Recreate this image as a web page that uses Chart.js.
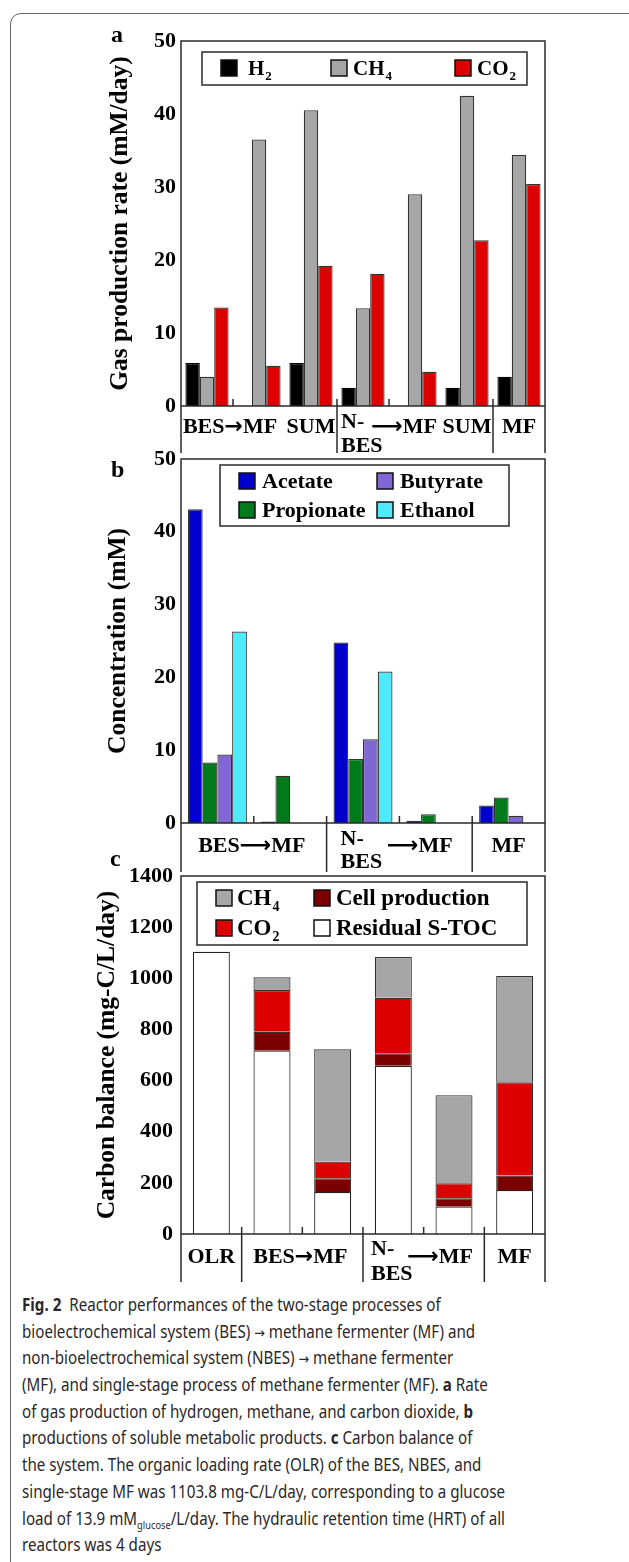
<!DOCTYPE html>
<html>
<head>
<meta charset="utf-8">
<script src="https://cdn.jsdelivr.net/npm/chart.js@4.4.1/dist/chart.umd.min.js"></script>
<style>
  html, body { margin: 0; padding: 0; background: #fff; }
  body { width: 629px; height: 1562px; position: relative; overflow: hidden; }
  #frame { position: absolute; left: 10px; top: 13px; width: 640px; height: 1600px;
           border: 1.5px solid #666; border-radius: 11px; box-sizing: border-box; }
  canvas { position: absolute; left: 0; }
  #caption { position: absolute; left: 22px; top: 1291px; font-family: 'Noto Sans', sans-serif;
             font-size: 18px; line-height: 26.7px; color: #2b2728; white-space: nowrap;
             transform-origin: 0 0; }
  #caption div { height: 26.7px; }
  #caption b { font-weight: 700; }
  #caption sub { font-size: 11px; vertical-align: -4px; line-height: 0; }
  #caption .ar { font-family: 'DejaVu Sans', sans-serif; font-size: 15px; }
</style>
</head>
<body>
<div id="frame"></div>
<canvas id="chart-a" width="629" height="460" style="top:0px"></canvas>
<canvas id="chart-b" width="629" height="450" style="top:430px"></canvas>
<canvas id="chart-c" width="629" height="440" style="top:850px"></canvas>
<div id="caption">
  <div><b>Fig. 2</b>&nbsp; Reactor performances of the two-stage processes of</div>
  <div>bioelectrochemical system (BES) <span class="ar">→</span> methane fermenter (MF) and</div>
  <div>non-bioelectrochemical system (NBES) <span class="ar">→</span> methane fermenter</div>
  <div>(MF), and single-stage process of methane fermenter (MF). <b>a</b> Rate</div>
  <div>of gas production of hydrogen, methane, and carbon dioxide, <b>b</b></div>
  <div>productions of soluble metabolic products. <b>c</b> Carbon balance of</div>
  <div>the system. The organic loading rate (OLR) of the BES, NBES, and</div>
  <div id="cap-ref">single-stage MF was 1103.8 mg-C/L/day, corresponding to a glucose</div>
  <div>load of 13.9 mM<sub>glucose</sub>/L/day. The hydraulic retention time (HRT) of all</div>
  <div>reactors was 4 days</div>
</div>
<script>
/* ── DATA ── */
// a: gas production rate (mM/day)
const catsA   = ['BES', 'MF', 'SUM', 'NBES', 'MF', 'SUM', 'MF'];
const h2Rate  = [5.9, 0, 5.9, 2.5, 0, 2.5, 4.0];
const ch4Rate = [4.0, 36.5, 40.5, 13.4, 29.0, 42.5, 34.4];
const co2Rate = [13.5, 5.5, 19.2, 18.1, 4.7, 22.7, 30.4];
const xTextA  = ['BES→MF', 'SUM', 'N-', 'BES', '⟶MF', 'SUM', 'MF'];
const yMaxA = 50, yStepA = 10;

// b: metabolite concentration (mM)
const catsB      = ['BES', 'MF', 'NBES', 'MF', 'MF'];
const acetate    = [43.1, 0.2, 24.8, 0.3, 2.4];
const propionate = [8.3, 6.5, 8.8, 1.2, 3.5];
const butyrate   = [9.4, 0, 11.5, 0, 1.0];
const ethanol    = [26.3, 0, 20.8, 0, 0];
const xTextB     = ['BES⟶MF', 'N-', 'BES', '⟶MF', 'MF'];
const yMaxB = 50, yStepB = 10;

// c: carbon balance (mg-C/L/day)
const catsC       = ['OLR', 'BES', 'MF', 'NBES', 'MF', 'MF'];
const residualToc = [1103.8, 717, 164, 658, 107, 172];
const cellProd    = [0, 74, 54, 49, 33, 57];
const co2Carbon   = [0, 163, 65, 217, 58, 364];
const ch4Carbon   = [0, 50, 439, 159, 345, 416];
const xTextC      = ['OLR', 'BES→MF', 'N-', 'BES', '⟶MF', 'MF'];
const yMaxC = 1400, yStepC = 200;

/* ── SHARED ── */
const SERIF = "'Liberation Serif', 'Times New Roman', serif";
const ARROWFONT = "'DejaVu Sans', sans-serif";
const LINE  = '#2a2a2a';
const EDGE  = '#333';

// draw "CH4" as CH + subscript 4
function drawFormula(ctx, label, x, y, size) {
  const m = label.match(/^(.*?)(\d+)$/);
  const base = m ? m[1] : label;
  ctx.font = `bold ${size}px ${SERIF}`;
  ctx.fillText(base, x, y);
  if (m) {
    const w = ctx.measureText(base).width;
    ctx.font = `bold ${Math.round(size * 0.62)}px ${SERIF}`;
    ctx.fillText(m[2], x + w + 1, y + size * 0.26);
  }
}

// category text, arrows set in a font that has a proper bold arrow
function drawLabel(ctx, text, x, y, align) {
  const parts = text.split(/([→⟶])/).filter(Boolean).map(p => ({
    p, font: /[→⟶]/.test(p) ? `bold 22px ${ARROWFONT}` : `bold 22px ${SERIF}`
  }));
  parts.forEach(s => { ctx.font = s.font; s.w = ctx.measureText(s.p).width; });
  const total = parts.reduce((t, s) => t + s.w, 0);
  let cx = align === 'center' ? x - total / 2 : x;
  ctx.textAlign = 'left';
  parts.forEach(s => { ctx.font = s.font; ctx.fillText(s.p, cx, y); cx += s.w; });
}

/* ── PANEL FRAME + CATEGORY TEXT + LEGEND ── */
const panelDeco = {
  id: 'panelDeco',
  afterDraw(chart, args, o) {
    const { ctx, chartArea: a } = chart;
    const step = (a.right - a.left) / chart.data.labels.length;
    const bx = a.bottom + o.ext;
    ctx.save();
    ctx.strokeStyle = LINE; ctx.lineWidth = 1.5;
    ctx.beginPath();
    ctx.moveTo(a.left, bx); ctx.lineTo(a.left, a.top);
    ctx.lineTo(a.right, a.top); ctx.lineTo(a.right, bx);
    ctx.moveTo(a.left, a.bottom); ctx.lineTo(a.right, a.bottom);
    o.dividers.forEach(i => { const px = a.left + step * i; ctx.moveTo(px, a.bottom - 7); ctx.lineTo(px, bx); });
    o.ticks.forEach(i => { const px = a.left + step * i; ctx.moveTo(px, a.bottom - 7); ctx.lineTo(px, a.bottom); });
    ctx.stroke();

    ctx.fillStyle = '#000';
    ctx.textBaseline = 'alphabetic';
    ctx.textAlign = 'left';
    ctx.font = `bold 24px ${SERIF}`;
    ctx.fillText(o.letter[0], o.letter[1], o.letter[2]);

    o.texts.forEach((t, k) => {
      const [pos, dx, dy, align] = o.place[k];
      drawLabel(ctx, t, a.left + step * pos + dx, a.bottom + dy, align);
    });

    // legend box
    const L = o.legend;
    ctx.textAlign = 'left';
    ctx.strokeStyle = LINE; ctx.lineWidth = 1.5;
    ctx.strokeRect(a.left + L.box[0], a.top + L.box[1], L.box[2], L.box[3]);
    L.items.forEach(([di, sx, sy, tx, ty]) => {
      const ds = chart.data.datasets[di];
      ctx.fillStyle = ds.backgroundColor;
      ctx.fillRect(a.left + sx, a.top + sy, 16, 16);
      ctx.strokeStyle = '#111'; ctx.lineWidth = 1.5;
      ctx.strokeRect(a.left + sx, a.top + sy, 16, 16);
      ctx.fillStyle = '#000';
      drawFormula(ctx, ds.label, a.left + tx, a.top + ty, L.size);
    });
    ctx.restore();
  }
};

function yAxis(max, step, titleText, titlePad, tickPad) {
  return {
    min: 0, max: max,
    ticks: { stepSize: step, padding: tickPad, color: '#000', callback: v => String(v),
             font: { family: SERIF, size: 22, weight: 'bold' } },
    grid: { display: false, drawTicks: false },
    border: { display: false },
    title: { display: true, text: titleText, color: '#000',
             padding: { top: titlePad, bottom: 0 },
             font: { family: SERIF, size: 25.5, weight: 'bold' } },
    afterFit: s => { s.width = 181; }
  };
}

function bar(label, data, color, border) {
  return { label, data, backgroundColor: color, borderColor: border || EDGE,
           borderWidth: 1.2, categoryPercentage: 1, barPercentage: 1 };
}

function baseOpts(padTop, padBottom, deco) {
  return {
    responsive: false, animation: false,
    layout: { padding: { top: padTop, bottom: padBottom, left: 0, right: 84 } },
    plugins: { legend: { display: false }, tooltip: { enabled: false }, panelDeco: deco },
  };
}

/* ── a: gas production ── */
const optsA = baseOpts(41, 54, {
  ext: 47, dividers: [3, 6], ticks: [1, 4], letter: ['a', 111, 42],
  texts: xTextA,
  place: [[1, -3, 27, 'center'], [2.5, 0, 27, 'center'], [3, 4, 22, 'left'], [3, 4, 46, 'left'],
          [4.5, -11, 27, 'center'], [5.5, 0, 27, 'center'], [6.5, 0, 27, 'center']],
  legend: { box: [21, 11, 325, 33], size: 21,
            items: [[0, 40, 19, 67, 34], [1, 150, 19, 172, 34], [2, 274, 19, 296, 34]] }
});
optsA.scales = { x: { display: false }, y: yAxis(yMaxA, yStepA, 'Gas production rate (mM/day)', 105, 5) };

new Chart(document.getElementById('chart-a'), {
  type: 'bar',
  data: { labels: catsA, datasets: [
    bar('H2', h2Rate, '#000000', '#000'),
    bar('CH4', ch4Rate, '#a6a6a6'),
    bar('CO2', co2Rate, '#dd0000'),
  ].map(d => ({ ...d, categoryPercentage: 0.83 })) },
  options: optsA,
  plugins: [panelDeco]
});

/* ── b: metabolites ── */
const optsB = baseOpts(29, 57, {
  ext: 49, dividers: [2, 4], ticks: [1, 3], letter: ['b', 111, 47],
  texts: xTextB,
  place: [[1, -2, 29, 'center'], [2, 14, 22, 'left'], [2, 14, 45, 'left'],
          [3.5, -16, 29, 'center'], [4.5, 0, 29, 'center']],
  legend: { box: [39, 6, 289, 61], size: 22,
            items: [[0, 58, 14, 81, 29], [2, 196, 14, 219, 29], [1, 58, 43, 81, 58], [3, 196, 43, 219, 58]] }
});
optsB.scales = { x: { display: false }, y: yAxis(yMaxB, yStepB, 'Concentration (mM)', 103, 5) };

new Chart(document.getElementById('chart-b'), {
  type: 'bar',
  data: { labels: catsB, datasets: [
    bar('Acetate', acetate, '#0000cc'),
    bar('Propionate', propionate, '#007a1a'),
    bar('Butyrate', butyrate, '#8166d6'),
    bar('Ethanol', ethanol, '#4ee9fa'),
  ].map(d => ({ ...d, categoryPercentage: 0.81 })) },
  options: optsB,
  plugins: [panelDeco]
});

/* ── c: carbon balance ── */
const optsC = baseOpts(26, 56, {
  ext: 48, dividers: [1, 3, 5], ticks: [2, 4], letter: ['c', 110, 16],
  texts: xTextC,
  place: [[0.5, 0, 29, 'center'], [2, -2, 29, 'center'], [3, 8, 21, 'left'], [3, 8, 46, 'left'],
          [4.5, -14, 29, 'center'], [5.5, 0, 29, 'center']],
  legend: { box: [16, 6, 330, 63], size: 23,
            items: [[3, 35, 14, 56, 29], [1, 133, 14, 155, 29], [2, 35, 44, 56, 59], [0, 133, 44, 155, 59]] }
});
optsC.scales = {
  x: { display: false, stacked: true },
  y: { ...yAxis(yMaxC, yStepC, 'Carbon balance (mg-C/L/day)', 92, 8), stacked: true }
};

new Chart(document.getElementById('chart-c'), {
  type: 'bar',
  data: { labels: catsC, datasets: [
    bar('Residual S-TOC', residualToc, '#ffffff', '#222'),
    bar('Cell production', cellProd, '#7a0000'),
    bar('CO2', co2Carbon, '#dd0000'),
    bar('CH4', ch4Carbon, '#a6a6a6'),
  ].map(d => ({ ...d, categoryPercentage: 0.61 })) },
  options: optsC,
  plugins: [panelDeco]
});

/* ── caption width fit ── */
const cap = document.getElementById('caption');
const r = document.createRange();
r.selectNodeContents(document.getElementById('cap-ref'));
cap.style.transform = `scaleX(${483 / r.getBoundingClientRect().width})`;
</script>
</body>
</html>
